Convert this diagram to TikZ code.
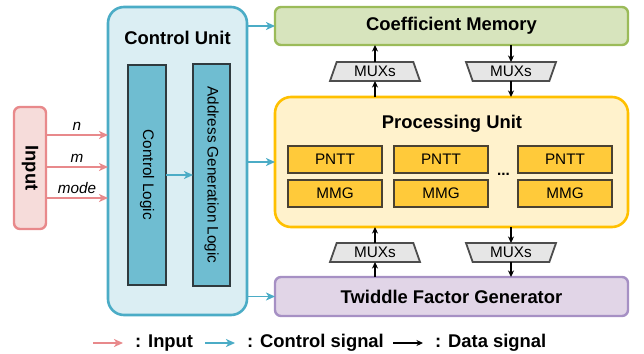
\documentclass[tikz,border=0pt]{standalone}
\usepackage{fontspec}
\setmainfont{Liberation Sans}
\usetikzlibrary{arrows.meta,shapes.geometric,calc}

\definecolor{inFill}{HTML}{F6DCDA}
\definecolor{inLine}{HTML}{E8898B}
\definecolor{cuFill}{HTML}{DBEEF3}
\definecolor{cuLine}{HTML}{4BACC6}
\definecolor{barFill}{HTML}{6FBDD1}
\definecolor{barLine}{HTML}{2F3A3E}
\definecolor{cmFill}{HTML}{D7E4BD}
\definecolor{cmLine}{HTML}{9BBB59}
\definecolor{puFill}{HTML}{FFF2CC}
\definecolor{puLine}{HTML}{FFC000}
\definecolor{peFill}{HTML}{FFCA3A}
\definecolor{peLine}{HTML}{4A4232}
\definecolor{muxFill}{HTML}{E6E6E6}
\definecolor{muxLine}{HTML}{4D4D4D}
\definecolor{tfFill}{HTML}{E1D5E7}
\definecolor{tfLine}{HTML}{A690C4}

\begin{document}
\begin{tikzpicture}[x=1pt,y=-1pt,
  bigfont/.style={font=\fontsize{18.4}{22}\selectfont\bfseries},
  smallfont/.style={font=\fontsize{15.3}{18}\selectfont},
  block/.style={draw, inner sep=0pt, outer sep=0pt},
  pe/.style={block, fill=peFill, draw=peLine, line width=1.6pt,
    minimum width=94pt, minimum height=27pt, smallfont},
  mux/.style={trapezium, trapezium stretches body, draw=muxLine, fill=muxFill,
    line width=1.8pt, minimum width=90pt, minimum height=19pt, inner sep=0pt,
    outer sep=0pt, trapezium left angle=58, trapezium right angle=58, smallfont},
  ctrl/.style={draw=cuLine, line width=1.8pt, -{Stealth[length=9pt,width=8pt,inset=2.5pt]}},
  datasig/.style={draw=black, line width=1.4pt, -{Stealth[length=6.5pt,width=6pt,inset=2pt]}},
  insig/.style={draw=inLine, line width=1.8pt, -{Stealth[length=9pt,width=8pt,inset=2.5pt]}}
]
\useasboundingbox (0,0) rectangle (644,353);

% input block
\node[block, fill=inFill, draw=inLine, line width=2.4pt, rounded corners=6pt,
  minimum width=32pt, minimum height=122pt] (input) at (30,168) {};
\node[bigfont, rotate=-90] (inputtext) at (input.center) {Input};

% control unit with its two logic bars
\node[block, fill=cuFill, draw=cuLine, line width=2.6pt, rounded corners=16pt,
  minimum width=139pt, minimum height=308pt] (cu) at (177.5,161) {};
\node[bigfont] (cutitle) at (177.5,38) {Control Unit};
\node[block, fill=barFill, draw=barLine, line width=1.6pt,
  minimum width=38pt, minimum height=220pt] (cl) at (147,175) {};
\node[smallfont, rotate=-90] (cltext) at (cl.center) {Control Logic};
\node[block, fill=barFill, draw=barLine, line width=1.6pt,
  minimum width=37pt, minimum height=222pt] (agl) at (211.5,175) {};
\node[smallfont, rotate=-90] (agltext) at (agl.center) {Address Generation Logic};

% memory, processing unit and twiddle generator
\node[block, fill=cmFill, draw=cmLine, line width=2.4pt, rounded corners=6pt,
  minimum width=353pt, minimum height=38pt, bigfont] (cm) at (451.5,26) {Coefficient Memory};
\node[block, fill=puFill, draw=puLine, line width=2.6pt, rounded corners=16pt,
  minimum width=353pt, minimum height=130pt] (pu) at (451.5,162) {};
\node[bigfont] (putitle) at (452,124) {Processing Unit};
\node[block, fill=tfFill, draw=tfLine, line width=2.4pt, rounded corners=6pt,
  minimum width=353pt, minimum height=39pt, bigfont] (tf) at (451.5,296.5) {Twiddle Factor Generator};

% processing elements
\node[pe] (p1) at (335,159.5) {PNTT};
\node[pe] (p2) at (441,159.5) {PNTT};
\node[pe] (p3) at (565,159.5) {PNTT};
\node[pe] (g1) at (335,193.5) {MMG};
\node[pe] (g2) at (441,193.5) {MMG};
\node[pe] (g3) at (565,193.5) {MMG};
\node[font=\fontsize{15.3}{18}\selectfont\bfseries] (dots) at (503.5,174) {...};

% multiplexers
\node[mux] (mux1) at (375,71.5) {MUXs};
\node[mux, shape border rotate=180] (mux2) at (511,71.5) {MUXs};
\node[mux] (mux3) at (375,252.5) {MUXs};
\node[mux, shape border rotate=180] (mux4) at (511,252.5) {MUXs};

% input signals
\foreach \yy/\lab/\nm in {135/n/a, 167/m/b, 198/mode/c}{
  \coordinate (src\nm) at (input.east |- 0,\yy);
  \coordinate (dst\nm) at (cu.west |- 0,\yy);
  \draw[insig] (src\nm) -- node[above=0pt, smallfont, font=\fontsize{15.3}{18}\selectfont\itshape] {\lab} (dst\nm);
}

% control signals
\draw[ctrl] (cu.east |- cm.west) -- (cm.west);
\draw[ctrl] (cu.east |- pu.west) -- (pu.west);
\draw[ctrl] (cu.east |- tf.west) -- (tf.west);
\draw[ctrl] (cl.east) -- (agl.west);

% data signals
\draw[datasig] (mux1.north) -- (mux1.north |- cm.south);
\draw[datasig] (mux1.south |- pu.north) -- (mux1.south);
\draw[datasig] (mux2.north |- cm.south) -- (mux2.north);
\draw[datasig] (mux2.south) -- (mux2.south |- pu.north);
\draw[datasig] (mux3.north) -- (mux3.north |- pu.south);
\draw[datasig] (mux3.south |- tf.north) -- (mux3.south);
\draw[datasig] (mux4.north |- pu.south) -- (mux4.north);
\draw[datasig] (mux4.south) -- (mux4.south |- tf.north);

% legend
\coordinate (l1a) at (93,343);  \coordinate (l1b) at (123,343);
\coordinate (l2a) at (205,343); \coordinate (l2b) at (235,343);
\coordinate (l3a) at (393,343); \coordinate (l3b) at (423,343);
\draw[insig, line width=1.6pt] (l1a) -- (l1b);
\draw[ctrl, line width=1.6pt] (l2a) -- (l2b);
\draw[datasig, line width=1.6pt] (l3a) -- (l3b);
\node[bigfont, anchor=west, inner sep=0pt] (leg1) at (135,343) {: Input};
\node[bigfont, anchor=west, inner sep=0pt] (leg2) at (247,343) {: Control signal};
\node[bigfont, anchor=west, inner sep=0pt] (leg3) at (435,343) {: Data signal};
\end{tikzpicture}
\end{document}
